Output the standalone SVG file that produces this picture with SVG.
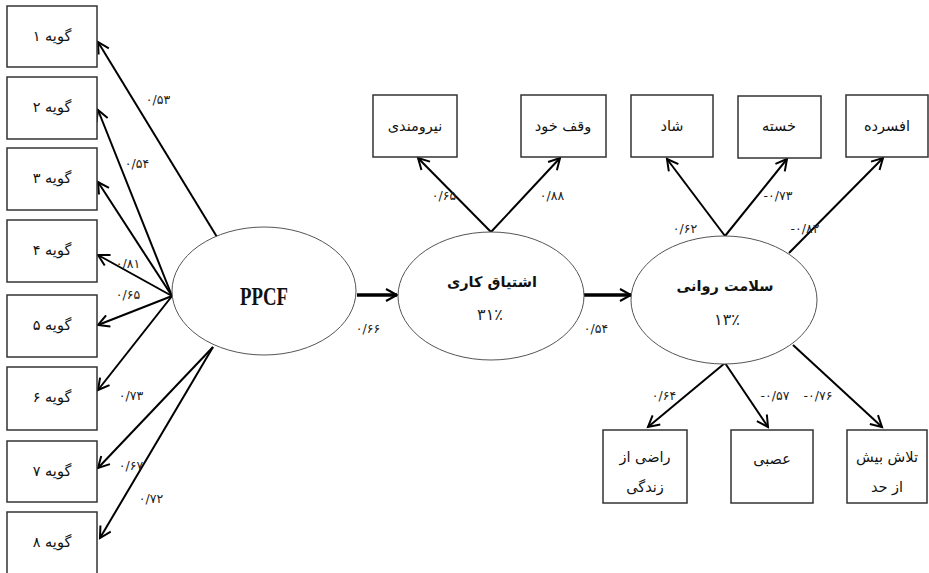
<svg xmlns="http://www.w3.org/2000/svg" width="929" height="573" viewBox="0 0 929 573">
<defs>
<marker id="ah" markerUnits="userSpaceOnUse" markerWidth="16" markerHeight="16" refX="12" refY="7" orient="auto">
<path d="M1,1 L12,7 L1,13" fill="none" stroke="#000" stroke-width="2"/>
</marker>
</defs>
<style>
.box{fill:#fff;stroke:#333;stroke-width:1.5}
.ell{fill:#fff;stroke:#555;stroke-width:1}
.ln{stroke:#000;stroke-width:2;fill:none;marker-end:url(#ah)}
.th{stroke:#000;stroke-width:3.5;fill:none;marker-end:url(#ah)}
.t{font-family:"DejaVu Sans",sans-serif;font-size:14.5px;fill:#111;text-anchor:middle}
.b{font-family:"DejaVu Sans",sans-serif;font-size:14.5px;font-weight:bold;fill:#111;text-anchor:middle}
.pc{font-family:"DejaVu Sans",sans-serif;font-size:16px;fill:#222;text-anchor:middle}
.n{font-family:"DejaVu Sans",sans-serif;font-size:12.5px;fill:#222;text-anchor:middle}
.p{font-family:"Liberation Serif",serif;font-size:26px;font-weight:bold;fill:#111;text-anchor:middle}
</style>
<rect width="929" height="573" fill="#fff"/>
<g id="connectors">
<line class="ln" x1="217" y1="237" x2="98" y2="42"/>
<line class="ln" x1="172" y1="296" x2="98" y2="110"/>
<line class="ln" x1="172" y1="296" x2="98" y2="182"/>
<line class="ln" x1="172" y1="296" x2="98" y2="255"/>
<line class="ln" x1="172" y1="296" x2="98" y2="325"/>
<line class="ln" x1="172" y1="296" x2="98" y2="390"/>
<line class="ln" x1="213" y1="347" x2="98" y2="468"/>
<line class="ln" x1="213" y1="347" x2="100" y2="538"/>
<line class="th" x1="357" y1="295" x2="397" y2="295"/>
<line class="th" x1="584" y1="295" x2="631" y2="295"/>
<line class="ln" x1="491" y1="232" x2="418" y2="158"/>
<line class="ln" x1="491" y1="232" x2="560" y2="158"/>
<line class="ln" x1="725" y1="236" x2="667" y2="159"/>
<line class="ln" x1="725" y1="236" x2="787" y2="159"/>
<line class="ln" x1="789" y1="253" x2="883" y2="158"/>
<line class="ln" x1="725" y1="363" x2="648" y2="427"/>
<line class="ln" x1="725" y1="363" x2="768" y2="427"/>
<line class="ln" x1="793" y1="345" x2="882" y2="427"/>
</g>
<g id="labels">
<text class="n" x="158" y="104">۰/۵۳</text>
<text class="n" x="137" y="168">۰/۵۴</text>
<text class="n" x="128" y="268">۰/۸۱</text>
<text class="n" x="128" y="299">۰/۶۵</text>
<text class="n" x="131" y="400">۰/۷۳</text>
<text class="n" x="131" y="470">۰/۶۷</text>
<text class="n" x="151" y="503">۰/۷۲</text>
<text class="n" x="368" y="333">۰/۶۶</text>
<text class="n" x="596" y="333">۰/۵۴</text>
<text class="n" x="444" y="200">۰/۶۵</text>
<text class="n" x="552" y="200">۰/۸۸</text>
<text class="n" x="685" y="233">۰/۶۲</text>
<text class="n" x="778" y="200">-۰/۷۳</text>
<text class="n" x="805" y="233">-۰/۸۲</text>
<text class="n" x="664" y="400">۰/۶۴</text>
<text class="n" x="775" y="400">-۰/۵۷</text>
<text class="n" x="818" y="400">-۰/۷۶</text>
</g>
<g id="n1"><rect class="box" x="7" y="6" width="90" height="61"/><text class="t" x="52" y="41">گویه ۱</text></g>
<g id="n2"><rect class="box" x="7" y="77" width="90" height="62"/><text class="t" x="52" y="112">گویه ۲</text></g>
<g id="n3"><rect class="box" x="7" y="148" width="90" height="62"/><text class="t" x="52" y="183">گویه ۳</text></g>
<g id="n4"><rect class="box" x="7" y="220" width="90" height="62"/><text class="t" x="52" y="255">گویه ۴</text></g>
<g id="n5"><rect class="box" x="7" y="295" width="90" height="62"/><text class="t" x="52" y="330">گویه ۵</text></g>
<g id="n6"><rect class="box" x="7" y="367" width="90" height="63"/><text class="t" x="52" y="402">گویه ۶</text></g>
<g id="n7"><rect class="box" x="7" y="441" width="90" height="61"/><text class="t" x="52" y="476">گویه ۷</text></g>
<g id="n8"><rect class="box" x="7" y="512" width="90" height="70"/><text class="t" x="52" y="547">گویه ۸</text></g>
<g id="ppcf"><ellipse class="ell" cx="264" cy="291" rx="92" ry="64"/><text class="p" x="264" y="305" textLength="48" lengthAdjust="spacingAndGlyphs">PPCF</text></g>
<g id="eshtiagh"><ellipse class="ell" cx="491" cy="296" rx="93" ry="64"/><text class="b" x="492" y="287">اشتیاق کاری</text><text class="pc" x="490" y="320">۳۱٪</text></g>
<g id="salamat"><ellipse class="ell" cx="724" cy="300" rx="93" ry="64"/><text class="b" x="725" y="291">سلامت روانی</text><text class="pc" x="727" y="325">۱۳٪</text></g>
<g id="niroomandi"><rect class="box" x="373" y="95" width="84" height="62"/><text class="t" x="415" y="131">نیرومندی</text></g>
<g id="vaghf"><rect class="box" x="521" y="95" width="85" height="62"/><text class="t" x="563" y="131">وقف خود</text></g>
<g id="shad"><rect class="box" x="631" y="95" width="82" height="62"/><text class="t" x="672" y="131">شاد</text></g>
<g id="khaste"><rect class="box" x="738" y="96" width="83" height="62"/><text class="t" x="779" y="131">خسته</text></g>
<g id="afsorde"><rect class="box" x="846" y="95" width="82" height="62"/><text class="t" x="887" y="131">افسرده</text></g>
<g id="razi"><rect class="box" x="603" y="430" width="84" height="73"/><text class="t" x="645" y="462">راضی از</text><text class="t" x="645" y="492">زندگی</text></g>
<g id="asabi"><rect class="box" x="731" y="430" width="82" height="73"/><text class="t" x="772" y="464">عصبی</text></g>
<g id="talash"><rect class="box" x="847" y="430" width="80" height="73"/><text class="t" x="887" y="462">تلاش بیش</text><text class="t" x="887" y="492">از حد</text></g>
</svg>
